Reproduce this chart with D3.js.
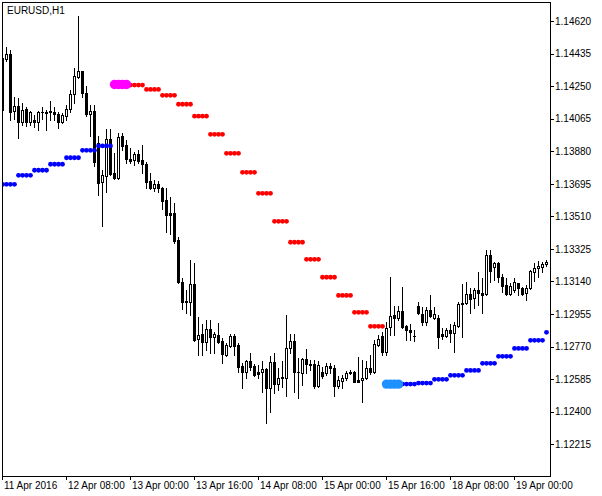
<!DOCTYPE html>
<html><head><meta charset="utf-8">
<script src="https://cdn.jsdelivr.net/npm/d3@7"></script>
<style>
body{margin:0;background:#fff}
svg{display:block}
text{font-family:"Liberation Sans",Arial,sans-serif;font-size:10px;fill:#000}
</style>
</head><body>
<svg id="c" width="602" height="496"></svg>
<script>
const symbolLabel = "EURUSD,H1";
const N = null;

const open = [1.14408,1.14404,1.14432,1.14110,1.14137,1.14048,1.14118,1.14048,1.14057,1.14048,
1.14101,1.14099,1.14105,1.14105,1.14092,1.14048,1.14080,1.14118,1.14204,1.14304,
1.14336,1.14209,1.14090,1.14109,1.13929,1.13707,1.13739,1.13948,1.13756,1.13726,
1.13967,1.13915,1.13836,1.13830,1.13864,1.13830,1.13807,1.13711,1.13673,1.13692,
1.13669,1.13603,1.13527,1.13527,1.13376,1.13135,1.13025,1.13025,1.13124,1.12811,
1.12842,1.12794,1.12868,1.12826,1.12836,1.12802,1.12722,1.12775,1.12830,1.12779,
1.12661,1.12627,1.12688,1.12660,1.12627,1.12624,1.12643,1.12533,1.12681,1.12556,
1.12596,1.12593,1.12760,1.12802,1.12624,1.12618,1.12700,1.12671,1.12671,1.12546,
1.12624,1.12618,1.12661,1.12647,1.12548,1.12576,1.12590,1.12618,1.12626,1.12580,
1.12582,1.12590,1.12647,1.12624,1.12779,1.12830,1.12741,1.12880,1.12950,1.12934,
1.12974,1.12887,1.12864,1.12832,1.13001,1.12955,1.12908,1.12978,1.12934,1.12934,
1.12840,1.12832,1.12864,1.12846,1.12887,1.13010,1.13016,1.13067,1.13044,1.13092,
1.13073,1.13067,1.13290,1.13224,1.13243,1.13167,1.13120,1.13069,1.13092,1.13130,
1.13105,1.13073,1.13101,1.13196,1.13215,1.13224,1.13238];

const high = [1.14472,1.14474,1.14455,1.14188,1.14182,1.14154,1.14131,1.14109,1.14086,1.14109,
1.14133,1.14114,1.14165,1.14131,1.14105,1.14097,1.14143,1.14228,1.14351,1.14648,
1.14338,1.14251,1.14143,1.14143,1.13967,1.13773,1.14006,1.14006,1.13872,1.13985,
1.13986,1.13944,1.13898,1.13877,1.13887,1.13915,1.13819,1.13755,1.13717,1.13711,
1.13679,1.13669,1.13618,1.13584,1.13394,1.13158,1.13092,1.13262,1.13243,1.12940,
1.12898,1.12921,1.12921,1.12855,1.12906,1.12817,1.12789,1.12842,1.12842,1.12792,
1.12679,1.12694,1.12735,1.12671,1.12665,1.12688,1.12648,1.12717,1.12732,1.12647,
1.12688,1.12950,1.12842,1.12840,1.12704,1.12707,1.12756,1.12694,1.12694,1.12688,
1.12656,1.12675,1.12675,1.12665,1.12605,1.12609,1.12631,1.12637,1.12631,1.12709,
1.12694,1.12688,1.12722,1.12808,1.12836,1.12853,1.12911,1.13167,1.13001,1.13001,
1.13110,1.12893,1.12897,1.12864,1.13022,1.12993,1.12997,1.13063,1.12997,1.12950,
1.12874,1.12877,1.12897,1.12911,1.13025,1.13124,1.13135,1.13101,1.13101,1.13192,
1.13158,1.13319,1.13319,1.13252,1.13252,1.13181,1.13158,1.13130,1.13158,1.13131,
1.13109,1.13120,1.13205,1.13243,1.13256,1.13252,1.13262];

const low = [1.14097,1.14393,1.14057,1.14063,1.13957,1.14029,1.14025,1.14027,1.14018,1.14001,
1.14061,1.14001,1.14057,1.14057,1.14010,1.14042,1.14057,1.14105,1.14156,1.14294,
1.14186,1.14080,1.13967,1.13796,1.13629,1.13457,1.13650,1.13745,1.13722,1.13722,
1.13887,1.13813,1.13813,1.13802,1.13811,1.13755,1.13669,1.13664,1.13656,1.13650,
1.13552,1.13423,1.13408,1.13360,1.13130,1.12982,1.12959,1.12950,1.12804,1.12722,
1.12722,1.12751,1.12735,1.12732,1.12789,1.12679,1.12717,1.12769,1.12722,1.12627,
1.12533,1.12593,1.12637,1.12603,1.12590,1.12514,1.12334,1.12400,1.12508,1.12523,
1.12542,1.12489,1.12732,1.12514,1.12476,1.12552,1.12622,1.12637,1.12536,1.12542,
1.12593,1.12609,1.12618,1.12489,1.12533,1.12535,1.12580,1.12613,1.12567,1.12567,
1.12454,1.12586,1.12614,1.12620,1.12773,1.12722,1.12722,1.12836,1.12836,1.12921,
1.12874,1.12808,1.12808,1.12804,1.12955,1.12893,1.12893,1.12940,1.12927,1.12760,
1.12811,1.12826,1.12794,1.12738,1.12883,1.12826,1.13010,1.12959,1.12988,1.13006,
1.12963,1.13063,1.13135,1.13148,1.13135,1.13082,1.13063,1.13063,1.13082,1.13063,
1.13063,1.13035,1.13097,1.13143,1.13167,1.13192,1.13230];

const close = [1.14114,1.14432,1.14105,1.14137,1.14048,1.14114,1.14048,1.14101,1.14048,1.14101,
1.14103,1.14101,1.14109,1.14090,1.14048,1.14086,1.14120,1.14205,1.14307,1.14336,
1.14209,1.14090,1.14109,1.13821,1.13701,1.13743,1.13948,1.13751,1.13726,1.13959,
1.13911,1.13836,1.13825,1.13863,1.13826,1.13806,1.13707,1.13673,1.13692,1.13669,
1.13599,1.13518,1.13518,1.13372,1.13135,1.13025,1.13029,1.13124,1.12808,1.12836,
1.12794,1.12868,1.12823,1.12842,1.12798,1.12726,1.12779,1.12830,1.12775,1.12656,
1.12627,1.12688,1.12656,1.12609,1.12614,1.12643,1.12533,1.12681,1.12556,1.12590,
1.12590,1.12760,1.12802,1.12624,1.12627,1.12700,1.12669,1.12668,1.12548,1.12665,
1.12605,1.12661,1.12647,1.12548,1.12580,1.12593,1.12622,1.12627,1.12571,1.12571,
1.12593,1.12647,1.12624,1.12783,1.12811,1.12741,1.12877,1.12946,1.12934,1.12974,
1.12883,1.12864,1.12851,1.12833,1.12959,1.12911,1.12978,1.12946,1.12954,1.12826,
1.12832,1.12864,1.12846,1.12893,1.13010,1.13016,1.13067,1.13040,1.13092,1.13073,
1.13063,1.13290,1.13200,1.13243,1.13167,1.13116,1.13069,1.13116,1.13135,1.13101,
1.13067,1.13105,1.13200,1.13218,1.13230,1.13239,1.13252];

// indicator: bullish (blue) and bearish (red) level dots, plus signal dots
const upDots = [1.13692,1.13692,1.13692,1.13692,1.13743,1.13743,1.13743,1.13743,1.13772,1.13772,
1.13772,1.13772,1.13806,1.13806,1.13806,1.13806,1.13843,1.13843,1.13843,1.13843,
1.13885,1.13885,1.13885,1.13885,1.13910,1.13910,1.13910,1.13910,N,N,
N,N,N,N,N,N,N,N,N,N, N,N,N,N,N,N,N,N,N,N, N,N,N,N,N,N,N,N,N,N,
N,N,N,N,N,N,N,N,N,N, N,N,N,N,N,N,N,N,N,N, N,N,N,N,N,N,N,N,N,N, N,N,N,N,N,N,N,N,N,N,
1.12557,1.12557,1.12557,1.12557,1.12563,1.12563,1.12563,1.12563,1.12584,1.12584,
1.12584,1.12584,1.12607,1.12607,1.12607,1.12607,1.12635,1.12635,1.12635,1.12635,
1.12675,1.12675,1.12675,1.12675,1.12715,1.12715,1.12715,1.12715,1.12760,1.12760,
1.12760,1.12760,1.12806,1.12806,1.12806,1.12806,1.12851];

const downDots = [N,N,N,N,N,N,N,N,N,N, N,N,N,N,N,N,N,N,N,N, N,N,N,N,N,N,N,N,N,N,
N,N,1.14256,1.14256,1.14256,1.14256,1.14231,1.14231,1.14231,1.14231,
1.14198,1.14198,1.14198,1.14198,1.14147,1.14147,1.14147,1.14147,1.14079,1.14079,
1.14079,1.14079,1.13976,1.13976,1.13976,1.13976,1.13868,1.13868,1.13868,1.13868,
1.13760,1.13760,1.13760,1.13760,1.13641,1.13641,1.13641,1.13641,1.13482,1.13482,
1.13482,1.13482,1.13363,1.13363,1.13363,1.13363,1.13266,1.13266,1.13266,1.13266,
1.13164,1.13164,1.13164,1.13164,1.13061,1.13061,1.13061,1.13061,1.12965,1.12965,
1.12965,1.12965,1.12885,1.12885,1.12885,1.12885,N,N,N,N,
N,N,N,N,N,N,N,N,N,N, N,N,N,N,N,N,N,N,N,N, N,N,N,N,N,N,N,N,N,N, N,N,N,N,N,N,N];

const downSignal = [N,N,N,N,N,N,N,N,N,N, N,N,N,N,N,N,N,N,N,N, N,N,N,N,N,N,N,N,
1.14259,1.14259,1.14259,1.14259];
const upSignal = [N,N,N,N,N,N,N,N,N,N, N,N,N,N,N,N,N,N,N,N, N,N,N,N,N,N,N,N,N,N,
N,N,N,N,N,N,N,N,N,N, N,N,N,N,N,N,N,N,N,N, N,N,N,N,N,N,N,N,N,N, N,N,N,N,N,N,N,N,N,N,
N,N,N,N,N,N,N,N,N,N, N,N,N,N,N,N,N,N,N,N, N,N,N,N,N,N,
1.12557,1.12557,1.12557,1.12557];

const yTicks = [1.14620,1.14435,1.14250,1.14065,1.13880,1.13695,1.13510,1.13325,1.13140,1.12955,1.12770,1.12585,1.12400,1.12215];
const xTickTimes = ["2016-04-11T16:00","2016-04-12T08:00","2016-04-13T00:00","2016-04-13T16:00","2016-04-14T08:00","2016-04-15T00:00","2016-04-15T16:00","2016-04-18T08:00","2016-04-19T00:00"];
const xTickLabels = ["11 Apr 2016","12 Apr 08:00","13 Apr 00:00","13 Apr 16:00","14 Apr 08:00","15 Apr 00:00","15 Apr 16:00","18 Apr 08:00","19 Apr 00:00"];

// hourly bar times (forex: weekends skipped)
const times = [];
(function(){
  let t = Date.UTC(2016,3,11,16);
  while (times.length < close.length) {
    const d = new Date(t), wd = d.getUTCDay();
    if (wd !== 0 && wd !== 6) times.push(d.toISOString().slice(0,16));
    t += 3600000;
  }
})();

const svg = d3.select("#c");
const L = 2, T = 2, R = 550, B = 476;

const x = d3.scalePoint().domain(times).range([2, 546]);
const y = d3.scaleLinear().domain([1.12215, 1.14620]).range([444.3, 21]);

svg.append("defs").append("clipPath").attr("id","clip")
  .append("rect").attr("x",L+1).attr("y",T+1).attr("width",R-L-1).attr("height",B-T-1);

const plot = svg.append("g").attr("clip-path","url(#clip)").attr("shape-rendering","crispEdges");

const bars = d3.range(times.length).map(i => ({t:times[i], o:open[i], h:high[i], l:low[i], c:close[i]}));

const cg = plot.selectAll("g.candle").data(bars).join("g").attr("class","candle");
cg.each(function(d){
  const g = d3.select(this);
  const cx = Math.round(x(d.t));
  const yh = Math.round(y(d.h)), yl = Math.round(y(d.l));
  g.append("rect").attr("x",cx).attr("y",yh).attr("width",1).attr("height",Math.max(1,yl-yh+1)).attr("fill","#000");
  const top = Math.round(y(Math.max(d.o,d.c))), bot = Math.round(y(Math.min(d.o,d.c)));
  if (d.c > d.o && bot - top >= 2) {
    g.append("rect").attr("x",cx-1).attr("y",top).attr("width",3).attr("height",bot-top+1).attr("fill","#000");
    g.append("rect").attr("x",cx).attr("y",top+1).attr("width",1).attr("height",bot-top-1).attr("fill","#fff");
  } else {
    g.append("rect").attr("x",cx-1).attr("y",top).attr("width",3).attr("height",Math.max(1,bot-top+1)).attr("fill","#000");
  }
});

const dotLayer = svg.append("g").attr("clip-path","url(#clip)");
function dots(arr, color, r){
  const pts = arr.map((v,i)=>({t:times[i], v})).filter(p => p.v !== null && p.v !== undefined);
  dotLayer.append("g").selectAll("circle").data(pts).join("circle")
    .attr("cx", p => Math.round(x(p.t)) + 0.5)
    .attr("cy", p => y(p.v))
    .attr("r", r)
    .attr("fill", color);
}
dots(downDots, "#ff0000", 2.4);
dots(upDots, "#0000ff", 2.4);
dots(downSignal, "#ff00ff", 4.7);
dots(upSignal, "#1e90ff", 4.7);

// frame
svg.append("rect").attr("x",L+0.5).attr("y",T+0.5).attr("width",R-L).attr("height",B-T)
  .attr("fill","none").attr("stroke","#000").attr("shape-rendering","crispEdges");

// y axis (right)
const ya = svg.append("g").attr("transform",`translate(${R},0)`)
  .call(d3.axisRight(y).tickValues(yTicks).tickSize(4).tickFormat(d3.format(".5f")));
ya.select(".domain").remove();
ya.selectAll("line").attr("stroke","#000").attr("shape-rendering","crispEdges");
ya.selectAll("text").attr("x",5).attr("font-family",null).attr("font-size",null);
ya.attr("font-family",null).attr("font-size",null);

// x axis (bottom)
const xa = svg.append("g").attr("transform",`translate(0,${B})`)
  .call(d3.axisBottom(x).tickValues(xTickTimes).tickSize(4).tickFormat((d,i)=>xTickLabels[i]));
xa.select(".domain").remove();
xa.selectAll("line").attr("stroke","#000").attr("shape-rendering","crispEdges");
xa.selectAll("text").attr("text-anchor","start").attr("x",1.5).attr("y",6);
xa.attr("font-family",null).attr("font-size",null);

svg.append("text").attr("x",7).attr("y",13.5).text(symbolLabel);
</script>
</body></html>
